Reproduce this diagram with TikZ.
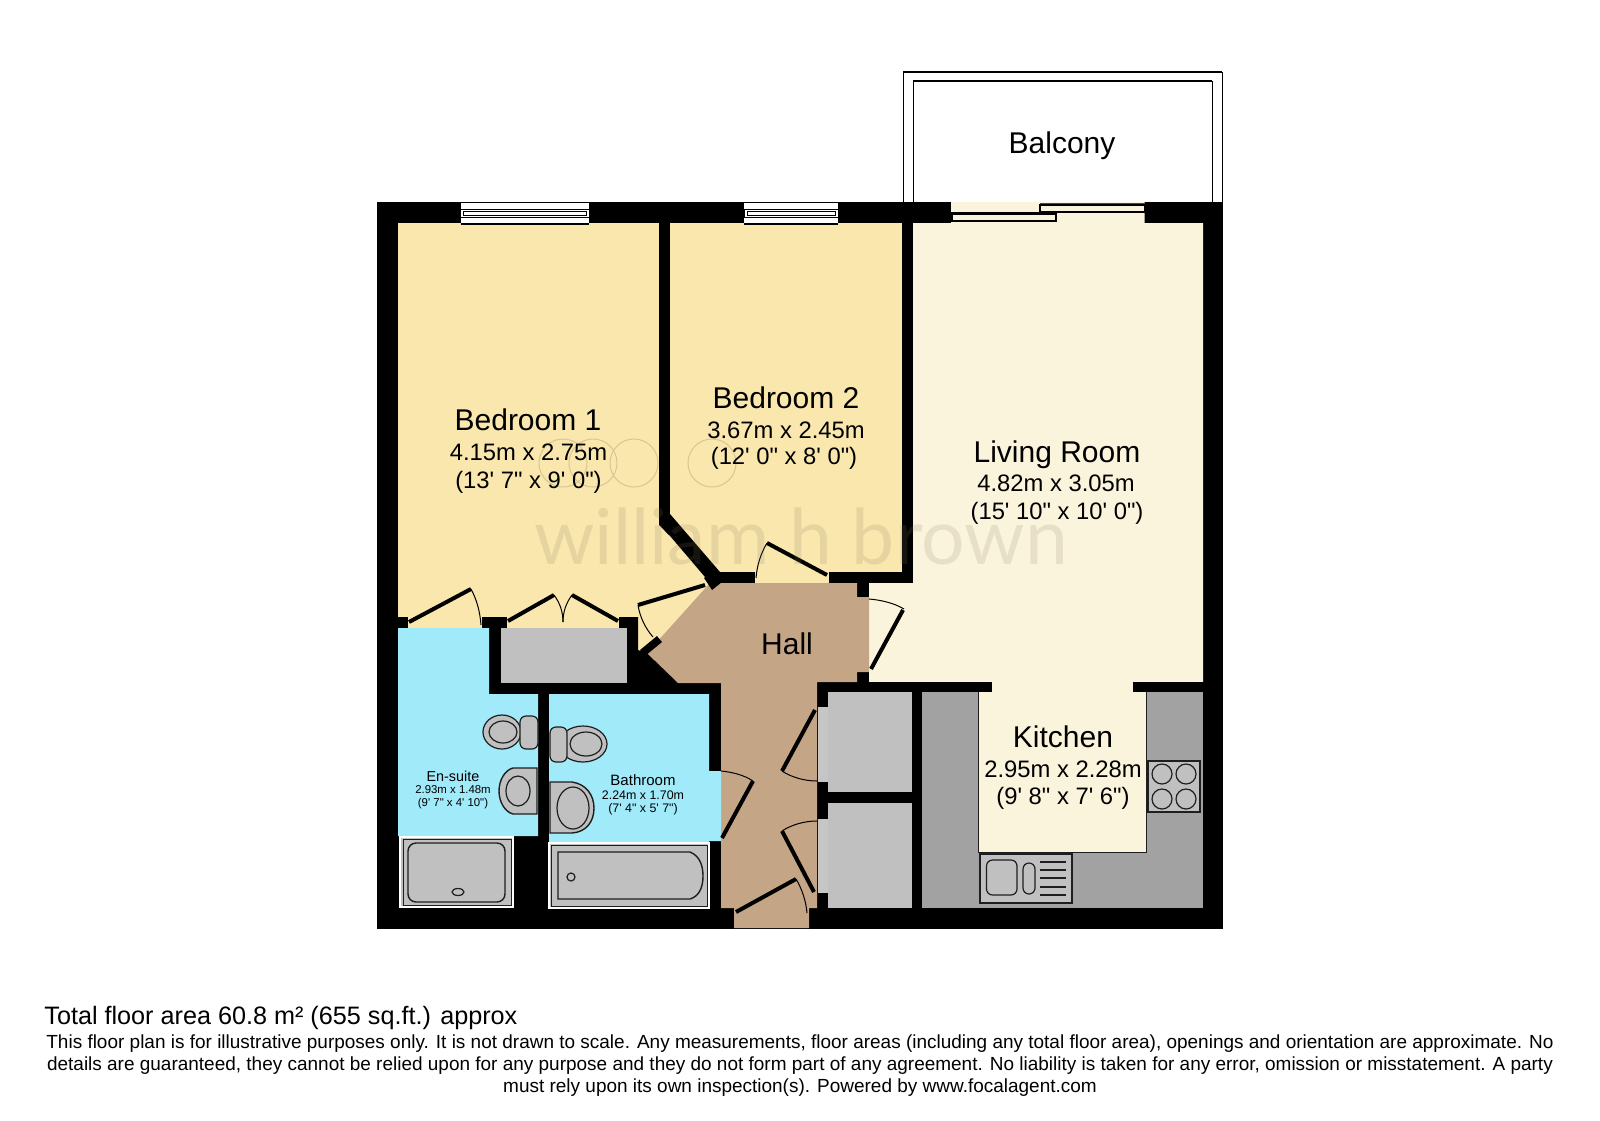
\documentclass[tikz,border=0pt]{standalone}
\usepackage{fontspec}
\setmainfont{Liberation Sans}
\newfontfamily\arialf{Liberation Sans}
\newfontfamily\wmfont{Lato}
\definecolor{bedcol}{HTML}{F9E7AE}
\definecolor{livcol}{HTML}{FBF4DC}
\definecolor{hallcol}{HTML}{C4A586}
\definecolor{wetcol}{HTML}{A0EAFA}
\definecolor{cupcol}{HTML}{C0C0C0}
\definecolor{topcol}{HTML}{A2A2A2}
\definecolor{linecol}{HTML}{1E1E1E}
\definecolor{wmcol}{HTML}{8A7C60}
\tikzset{
  wallfill/.style={fill=black,draw=none},
  leaf/.style={draw=black,line width=2pt,line cap=butt},
  swing/.style={draw=black,line width=0.5pt},
  fixture/.style={fill=cupcol,draw=linecol,line width=0.6pt},
  bigl/.style={font=\arialf\fontsize{15}{15}\selectfont,inner sep=0pt},
  dims/.style={font=\arialf\fontsize{11.9}{12}\selectfont,inner sep=0pt},
  small/.style={font=\arialf\fontsize{7.2}{8}\selectfont,inner sep=0pt},
  tiny/.style={font=\arialf\fontsize{5.7}{6}\selectfont,inner sep=0pt},
  smallb/.style={font=\arialf\fontsize{7.5}{8}\selectfont,inner sep=0pt},
  tinyb/.style={font=\arialf\fontsize{6.2}{7}\selectfont,inner sep=0pt},
  wm/.style={draw=wmcol,opacity=0.3,line width=0.5pt},
}
\begin{document}
\begin{tikzpicture}[x=0.5pt,y=-0.5pt]
\useasboundingbox (0,0) rectangle (1600,1120);
\fill[white] (0,0) rectangle (1600,1120);
% balcony
\draw[line width=0.5pt] (903,202)--(903,72)--(1222,72)--(1222,202);
\draw[line width=0.5pt] (913,202)--(913,81)--(1212,81)--(1212,202);
\draw[line width=0.7pt] (903,72)--(1222,72) (913,81)--(1212,81);
% outer block
\fill[wallfill] (377,202) rectangle (1223,929);
% room floors
\fill[bedcol] (398,223)--(659,223)--(659,525)--(705,573)--(718,590)--(655,660)--(480,660)--(398,628)--cycle;
\fill[bedcol] (669,223)--(902,223)--(902,572)--(669,572)--cycle;
\fill[livcol] (913,223)--(951,223)--(951,202)--(1144.5,202)--(1144.5,223)--(1203,223)--(1203,682)--(869,682)--(869,597)--(857,597)--(857,583)--(913,583)--cycle;
% re-black wall bits over floors
\fill[wallfill] (398,617) rectangle (408,628);
\fill[wallfill] (482,617) rectangle (507,628);
\fill[wallfill] (489,617) rectangle (501,694);
\fill[wallfill] (501,683) rectangle (540,694);
\fill[wallfill] (619,617)--(638,617)--(638,650)--(647,653)--(678,683)--(627,683)--(627,628)--(619,628)--cycle;
\fill[wallfill] (670,514)--(659,523)--(705,577)--(720,572)--cycle;
\fill[wallfill] (717,572) rectangle (755,583);
\fill[wallfill] (829,572) rectangle (912,583);
\fill[wallfill] (902,223) rectangle (913,583);
\fill[wallfill] (659,223) rectangle (669.5,525);
\fill[wallfill] (857,583) rectangle (869,597);
% hall
\fill[hallcol] (710,583)--(857,583)--(857,597)--(869,597)--(869,672)--(857,672)--(857,682)--(817,682)--(817,908)--(809,908)--(809,928)--(734,928)--(734,908)--(721,908)--(721,683)--(678,683)--(647,653)--cycle;
\fill[bedcol] (755,572) rectangle (829,583);
% wet rooms
\fill[wetcol] (398,628)--(489,628)--(489,694)--(538,694)--(538,836)--(398,836)--cycle;
\fill[wetcol] (549,694)--(709,694)--(709,771)--(721,771)--(721,841)--(709,841)--(709,908)--(549,908)--cycle;
% cupboards
\fill[cupcol] (501,628) rectangle (627,683);
\fill[cupcol] (828,692) rectangle (912,792);
\fill[cupcol] (828,803) rectangle (912,908);
\fill[cupcol!90!white] (818,707) rectangle (828,782);
\fill[cupcol!90!white] (818,819) rectangle (828,893);
% kitchen
\fill[wallfill] (869,682) rectangle (992,692);
\fill[wallfill] (1133,682) rectangle (1203,692);
\fill[topcol] (922,692) rectangle (1203,908);
\filldraw[fill=livcol,draw=linecol,line width=0.5pt] (978,692)--(978,852)--(1146,852)--(1146,692);
\fill[livcol] (992,680) rectangle (1133,692.5);
% windows
\foreach \xa/\xb in {460.5/589,744/838}{
  \fill[white] (\xa,202) rectangle (\xb,224);
  \draw[line width=0.35pt] (\xa,202)--(\xb,202);
  \draw[line width=0.7pt] (\xa,224)--(\xb,224);
  \draw[line width=0.35pt] (\xa,209) rectangle (\xb,217);
  \draw[line width=0.35pt] (\xa+3,211) rectangle (\xb-3,215);
}
% sliding door
\fill[livcol] (951,204) rectangle (1040,212);
\fill[wallfill] (951,212) rectangle (1056,214);
\filldraw[fill=livcol,draw=black,line width=0.6pt] (952,214) rectangle (1056,221);
\filldraw[fill=livcol,draw=black,line width=0.6pt] (1040,205) rectangle (1144.5,212);
\draw[line width=0.5pt,black!70] (1040,203)--(1144.5,203);
% doors
\draw[leaf] (409,622)--(471,589);
\draw[swing] (471,589) .. controls (477,600) and (480,612) .. (481,625);
\draw[leaf] (508,621)--(554,595);
\draw[swing] (554,595) .. controls (560,603) and (563,612) .. (563,622);
\draw[leaf] (618,621)--(572,595);
\draw[swing] (572,595) .. controls (566,603) and (563,612) .. (563,622);
\draw[leaf] (705,585)--(638,605);
\draw[swing] (638,605) .. controls (640,618) and (646,629) .. (653,637);
\draw[leaf] (827,575)--(767,543);
\draw[swing] (767,543) .. controls (761,553) and (757,565) .. (756,578);
\draw[leaf] (871,669)--(903,610);
\draw[swing] (869,599) .. controls (881,600) and (894,603) .. (904,609);
\draw[leaf] (722,838)--(753,781);
\draw[swing] (721,771) .. controls (732,772) and (744,775) .. (753,781);
\draw[leaf] (815,710)--(782,771);
\draw[swing] (782,771) .. controls (791,777) and (804,781) .. (817,781);
\draw[leaf] (814,892)--(782,831);
\draw[swing] (782,831) .. controls (791,825) and (804,821) .. (817,821);
\draw[leaf] (736,912)--(796,879);
\draw[swing] (796,879) .. controls (802,889) and (806,901) .. (807,913);
% door stops
\fill[wallfill] (640,650)--(657,636)--(662,642)--(645,656)--cycle;
\fill[wallfill] (704,578)--(714,571)--(722,582)--(712,590)--cycle;
% shower
\filldraw[fill=cupcol,draw=white,line width=0.6pt] (400,837) rectangle (513,907);
\draw[linecol,line width=0.4pt] (403,839) rectangle (511,905);
\draw[linecol,line width=0.7pt,rounded corners=4pt] (408,843) rectangle (505,902);
\draw[linecol,line width=0.6pt] (458,892) ellipse (6 and 3.5);
% bath
\filldraw[fill=cupcol,draw=white,line width=0.6pt] (549,843) rectangle (709,908);
\draw[linecol,line width=0.4pt] (551,845) rectangle (707,906);
\draw[linecol,line width=0.7pt] (558,852)--(690,852) .. controls (700,856) and (703,866) .. (703,876) .. controls (703,886) and (700,896) .. (690,899)--(558,899)--cycle;
\draw[linecol,line width=0.6pt] (571,877) circle (4);
% WCs
\filldraw[fixture] (502,732) ellipse (19 and 17);
\draw[fixture,rounded corners=3pt] (520,716) rectangle (538,749);
\draw[linecol,line width=0.6pt] (503,732) ellipse (14 and 11);
\filldraw[fixture] (583,744) ellipse (24 and 18);
\draw[fixture,rounded corners=3pt] (550,727) rectangle (567,762);
\draw[linecol,line width=0.6pt] (586,744) ellipse (16 and 12);
% basins
\draw[fixture,line width=0.7pt] (537,768)--(513,768) .. controls (505,770) and (499,780) .. (499,791) .. controls (499,802) and (505,812) .. (513,814)--(537,814)--cycle;
\draw[linecol,line width=0.6pt] (518,791) ellipse (12 and 15);
\draw[fixture,line width=0.7pt] (550,782)--(572,782) .. controls (586,784) and (594,795) .. (594,808) .. controls (594,822) and (586,832) .. (572,833)--(550,833)--cycle;
\draw[linecol,line width=0.6pt] (573,808) ellipse (16 and 21);
% hob
\draw[fixture] (1148,761) rectangle (1200,812);
\foreach \cx/\cy in {1162/774,1186/774,1162/799,1186/799}{\draw[linecol,line width=0.6pt] (\cx,\cy) circle (10);}
% sink
\draw[fixture] (980,854) rectangle (1072,903);
\draw[linecol,line width=0.6pt,rounded corners=3pt] (986.5,860) rectangle (1017,895);
\draw[linecol,line width=0.6pt,rounded corners=3pt] (1023,863) rectangle (1035,894);
\foreach \ly in {862,870,878,887,895}{\draw[linecol,line width=0.6pt] (1040,\ly)--(1066,\ly);}
% watermark
\draw[wm] (563,463) circle (24) (593,463) circle (24) (634,463) circle (24) (712,463) circle (24);
\node[opacity=0.17,text=wmcol,inner sep=0pt,font=\wmfont\fontsize{38.5}{38}\selectfont] (wmark) at (801,536) {william h brown};
% labels
\node[bigl] (balc) at (1062,146) {Balcony};
\node[bigl] (bed1) at (528,420) {Bedroom 1};
\node[dims] (bed1a) at (528.5,452) {4.15m x 2.75m};
\node[dims] (bed1b) at (528.5,482) {(13' 7" x 9' 0")};
\node[bigl] (bed2) at (786,398) {Bedroom 2};
\node[dims] (bed2a) at (786,430) {3.67m x 2.45m};
\node[dims] (bed2b) at (784,458) {(12' 0" x 8' 0")};
\node[bigl] (liv) at (1057,455) {Living Room};
\node[dims] (liva) at (1056,483) {4.82m x 3.05m};
\node[dims] (livb) at (1057,513) {(15' 10" x 10' 0")};
\node[bigl] (hall) at (787,644) {Hall};
\node[bigl] (kit) at (1063,737) {Kitchen};
\node[dims] (kita) at (1063,769) {2.95m x 2.28m};
\node[dims] (kitb) at (1063,798) {(9' 8" x 7' 6")};
\node[small] (ens) at (453,776) {En-suite};
\node[tiny] (ensa) at (453,790) {2.93m x 1.48m};
\node[tiny] (ensb) at (453,804) {(9' 7" x 4' 10")};
\node[smallb] (bath) at (643,780) {Bathroom};
\node[tinyb] (batha) at (643,795) {2.24m x 1.70m};
\node[tinyb] (bathb) at (643,809) {(7' 4" x 5' 7")};
% footer
\node[anchor=west,inner sep=0pt,font=\arialf\fontsize{12.6}{13}\selectfont] (tot) at (44,1018) {Total floor area 60.8 m² (655 sq.ft.) approx};
\node[anchor=center,inner sep=0pt,font=\arialf\fontsize{9.49}{10}\selectfont] (f1) at (800,1044) {This floor plan is for illustrative purposes only. It is not drawn to scale. Any measurements, floor areas (including any total floor area), openings and orientation are approximate. No};
\node[anchor=center,inner sep=0pt,font=\arialf\fontsize{9.49}{10}\selectfont] (f2) at (800,1066) {details are guaranteed, they cannot be relied upon for any purpose and they do not form part of any agreement. No liability is taken for any error, omission or misstatement. A party};
\node[anchor=center,inner sep=0pt,font=\arialf\fontsize{9.49}{10}\selectfont] (f3) at (800,1088) {must rely upon its own inspection(s). Powered by www.focalagent.com};
\end{tikzpicture}
\end{document}
